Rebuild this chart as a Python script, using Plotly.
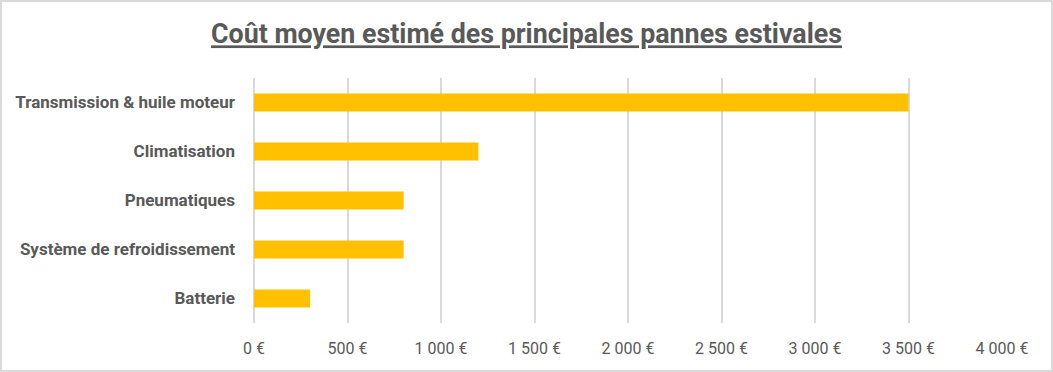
import plotly.graph_objects as go

categories = ["Transmission & huile moteur", "Climatisation", "Pneumatiques",
              "Système de refroidissement", "Batterie"]
values = [3500, 1200, 800, 800, 300]
tick_values = [0, 500, 1000, 1500, 2000, 2500, 3000, 3500, 4000]
tick_labels = ["0 €", "500 €", "1 000 €", "1 500 €", "2 000 €", "2 500 €",
               "3 000 €", "3 500 €", "4 000 €"]
title = "Coût moyen estimé des principales pannes estivales"

W, H = 1053, 372
ml, mr, mt, mb = 254, 51, 78, 49
pw, ph = W - ml - mr, H - mt - mb

fig = go.Figure(go.Bar(
    x=values, y=categories, orientation="h",
    marker=dict(color="#FFC000", line=dict(width=0)),
    width=0.37,
))

fig.update_layout(
    width=W, height=H,
    margin=dict(l=ml, r=mr, t=mt, b=mb, pad=0),
    paper_bgcolor="white", plot_bgcolor="white",
    showlegend=False,
    title=dict(text="<b><u>" + title + "</u></b>", x=0.5, xref="container",
               xanchor="center", y=1 - 34 / H, yanchor="middle",
               font=dict(family="Roboto", size=26.8, color="#595959")),
    font=dict(family="Roboto", color="#595959"),
    shapes=[dict(type="rect", xref="paper", yref="paper",
                 x0=-(ml - 1) / pw, x1=1 + (mr - 1) / pw,
                 y0=-(mb - 1) / ph, y1=1 + (mt - 1) / ph,
                 line=dict(color="#d9d9d9", width=2), layer="below")],
)
fig.layout.xaxis.update(
    range=[0, 4000], tickvals=tick_values, ticktext=tick_labels,
    showgrid=True, gridcolor="#d9d9d9", gridwidth=1.5,
    zeroline=True, zerolinecolor="#d9d9d9", zerolinewidth=1.5,
    showline=False, ticks="", ticklabelstandoff=14,
    tickfont=dict(family="Roboto", size=16, color="#595959"),
    fixedrange=True,
)
fig.layout.yaxis.update(
    categoryorder="array", categoryarray=categories, autorange="reversed",
    showgrid=False, zeroline=False, showline=False, ticks="",
    ticklabelstandoff=18,
    tickfont=dict(family="Roboto", size=17, color="#595959", weight="bold"),
    fixedrange=True,
)

fig.write_html("out.html", config={"displayModeBar": False},
               post_script="document.body.style.margin='0';document.body.style.overflow='hidden';")
